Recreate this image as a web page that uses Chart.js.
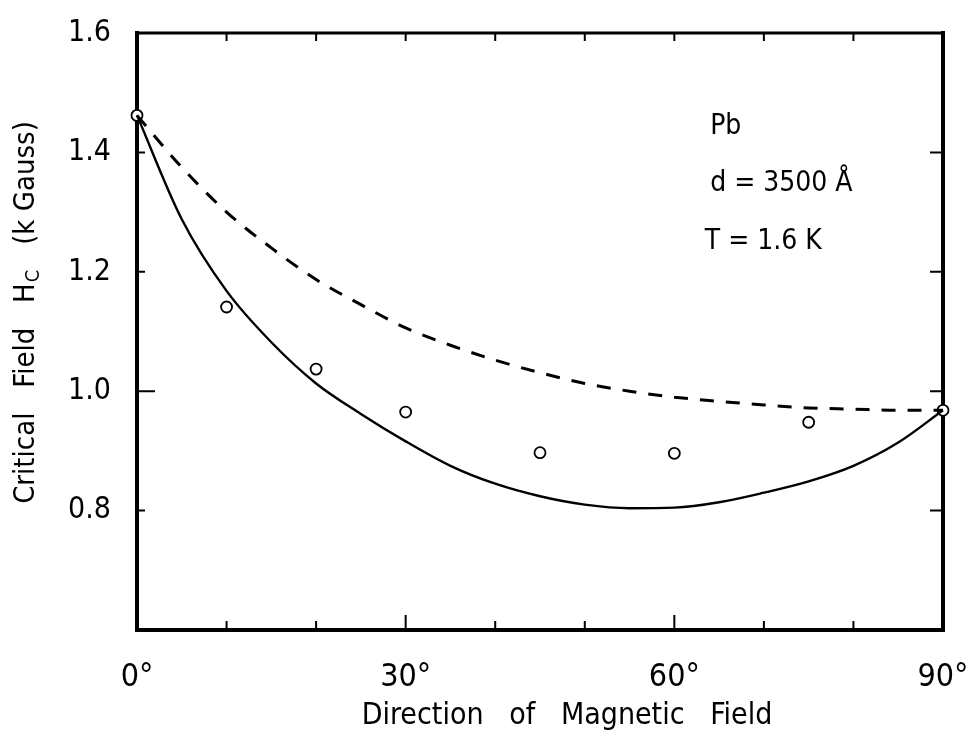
<!DOCTYPE html>
<html>
<head>
<meta charset="utf-8">
<script src="https://cdn.jsdelivr.net/npm/chart.js@4/dist/chart.umd.min.js"></script>
<style>
  html, body { margin: 0; padding: 0; background: #fff; }
  #wrap { width: 970px; height: 736px; }
</style>
</head>
<body>
<div id="wrap"><canvas id="grafico" width="970" height="736"></canvas></div>
<script>
// ---- DATA ----
const angleTicks = [0, 30, 60, 90];                 // labelled x ticks (degrees)
const angleMinor = [10, 20, 30, 40, 50, 60, 70, 80];
const fieldTicks = [0.6, 0.8, 1.0, 1.2, 1.4, 1.6];  // kGauss

// measured points (open circles)
const measuredAngle = [0, 10, 20, 30, 45, 60, 75, 90];
const measuredHc = [1.462, 1.141, 1.037, 0.965, 0.897, 0.896, 0.948, 0.968];

// theory curves, read every 5 degrees
const curveAngle = [0, 5, 10, 15, 20, 25, 30, 35, 40, 45, 50, 55, 60, 65, 70, 75, 80, 85, 90];
const solidHc  = [1.462, 1.288, 1.168, 1.082, 1.013, 0.962, 0.916, 0.875, 0.845, 0.824, 0.810, 0.804, 0.805, 0.814, 0.830, 0.849, 0.875, 0.914, 0.968];
const dashedHc = [1.462, 1.375, 1.300, 1.240, 1.187, 1.145, 1.106, 1.077, 1.052, 1.031, 1.013, 1.000, 0.990, 0.983, 0.977, 0.972, 0.970, 0.968, 0.968];

const infoLines = ["Pb", "d = 3500 Å", "T = 1.6 K"];

const FONT = '"Liberation Sans Narrow", "DejaVu Sans Condensed", "Liberation Sans", sans-serif';

function pares(xs, ys) {
  return xs.map((x, i) => ({ x: x, y: ys[i] }));
}

// ---- FRAME, TICKS, TEXTS ----
const molduraPlugin = {
  id: "moldura",
  beforeDatasetsDraw(chart) {
    const ctx = chart.ctx;
    const a = chart.chartArea;
    const sx = chart.scales.x, sy = chart.scales.y;
    ctx.save();
    ctx.strokeStyle = "#000";
    ctx.lineCap = "square";
    // frame
    ctx.lineWidth = 4;
    ctx.beginPath();
    ctx.moveTo(a.left, a.top); ctx.lineTo(a.left, a.bottom);
    ctx.lineTo(a.right, a.bottom); ctx.lineTo(a.right, a.top);
    ctx.stroke();
    ctx.lineWidth = 3;
    ctx.beginPath();
    ctx.moveTo(a.left, a.top); ctx.lineTo(a.right, a.top);
    ctx.stroke();
    // inward ticks
    ctx.lineWidth = 2;
    ctx.beginPath();
    angleMinor.forEach(v => {
      const px = sx.getPixelForValue(v);
      const len = (v % 30 === 0) ? 14 : 8;
      ctx.moveTo(px, a.bottom); ctx.lineTo(px, a.bottom - len);
      ctx.moveTo(px, a.top); ctx.lineTo(px, a.top + 7);
    });
    fieldTicks.forEach(v => {
      if (v <= 0.61 || v >= 1.59) return;
      const py = sy.getPixelForValue(v);
      const len = Math.abs(v - 1.0) < 0.01 ? 17 : 7;
      ctx.moveTo(a.left, py); ctx.lineTo(a.left + len, py);
      ctx.moveTo(a.right, py); ctx.lineTo(a.right - 12, py);
    });
    ctx.stroke();
    ctx.restore();
  },
  afterDraw(chart) {
    const ctx = chart.ctx;
    const sx = chart.scales.x, sy = chart.scales.y;
    ctx.save();
    ctx.fillStyle = "#000";
    ctx.textBaseline = "middle";

    // info block
    ctx.font = "28px " + FONT;
    ctx.textAlign = "left";
    const infoX = [64.0, 64.0, 63.4];
    const infoY = [1.443, 1.347, 1.251];
    infoLines.forEach((t, i) => {
      ctx.fillText(t, sx.getPixelForValue(infoX[i]), sy.getPixelForValue(infoY[i]));
    });

    // x title
    ctx.font = "30px " + FONT;
    ctx.textAlign = "center";
    ctx.fillText("Direction   of   Magnetic   Field", 567, 716);

    // y title, rotated, with subscript C
    ctx.translate(26, 313);
    ctx.rotate(-Math.PI / 2);
    ctx.textAlign = "left";
    const p1 = "Critical   Field   H";
    const p3 = "   (k Gauss)";
    ctx.font = "29px " + FONT;
    const w1 = ctx.measureText(p1).width;
    const w3 = ctx.measureText(p3).width;
    ctx.font = "20px " + FONT;
    const w2 = ctx.measureText("C").width;
    let x0 = -(w1 + w2 + w3) / 2;
    ctx.font = "29px " + FONT;
    ctx.fillText(p1, x0, 0);
    ctx.font = "20px " + FONT;
    ctx.fillText("C", x0 + w1 + 1, 8);
    ctx.font = "29px " + FONT;
    ctx.fillText(p3, x0 + w1 + w2 + 1, 0);
    ctx.restore();
  }
};

new Chart(document.getElementById("grafico"), {
  type: "scatter",
  data: {
    datasets: [
      {
        label: "solid",
        data: pares(curveAngle, solidHc),
        showLine: true,
        borderColor: "#000",
        borderWidth: 2.4,
        pointRadius: 0,
        cubicInterpolationMode: "monotone",
        clip: false
      },
      {
        label: "dashed",
        data: pares(curveAngle, dashedHc),
        showLine: true,
        borderColor: "#000",
        borderWidth: 3,
        borderDash: [14, 12],
        pointRadius: 0,
        cubicInterpolationMode: "monotone",
        clip: false
      },
      {
        label: "medidas",
        data: pares(measuredAngle, measuredHc),
        showLine: false,
        pointRadius: 5.5,
        pointBackgroundColor: "#fff",
        pointBorderColor: "#000",
        pointBorderWidth: 1.8,
        clip: false
      }
    ]
  },
  options: {
    responsive: false,
    animation: false,
    events: [],
    layout: { padding: { top: 33, right: 27, left: 0, bottom: 0 } },
    plugins: { legend: { display: false }, tooltip: { enabled: false } },
    scales: {
      x: {
        type: "linear",
        min: 0, max: 90,
        grid: { display: false, drawTicks: false },
        border: { display: false },
        afterBuildTicks: s => { s.ticks = angleTicks.map(v => ({ value: v })); },
        afterFit: s => { s.height = 106; s.paddingLeft = 0; s.paddingRight = 0; },
        ticks: {
          color: "#000",
          padding: 28,
          font: { family: FONT, size: 32 },
          callback: v => v + "°"
        }
      },
      y: {
        type: "linear",
        min: 0.6, max: 1.6,
        grid: { display: false, drawTicks: false },
        border: { display: false },
        afterBuildTicks: s => { s.ticks = fieldTicks.map(v => ({ value: v })); },
        afterFit: s => { s.width = 137; s.paddingTop = 0; s.paddingBottom = 0; },
        ticks: {
          color: "#000",
          padding: 26,
          font: { family: FONT, size: 30 },
          callback: v => (v < 0.7 ? "" : Number(v).toFixed(1))
        }
      }
    }
  },
  plugins: [molduraPlugin]
});
</script>
</body>
</html>
